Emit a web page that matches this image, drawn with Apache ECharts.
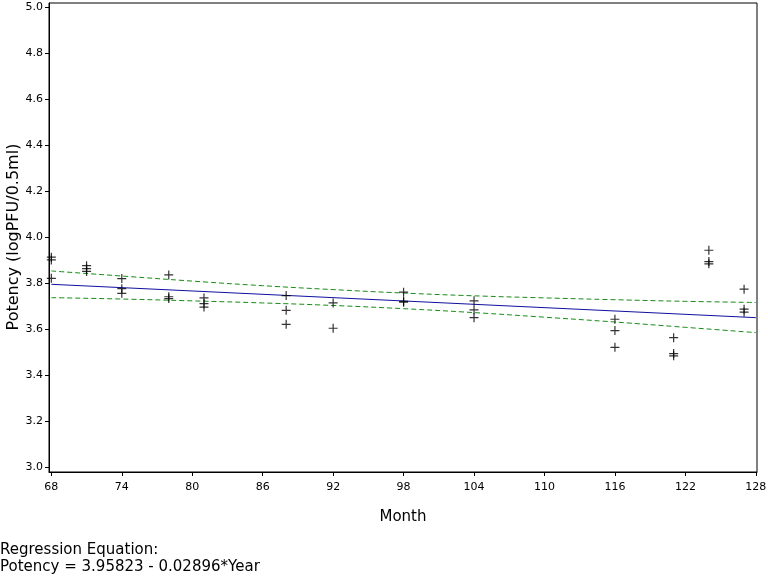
<!DOCTYPE html>
<html>
<head>
<meta charset="utf-8">
<script src="https://cdn.jsdelivr.net/npm/echarts@6/dist/echarts.min.js"></script>
<style>html,body{margin:0;padding:0;background:#fff}#c{width:768px;height:576px}</style>
</head>
<body>
<div id="c"></div>
<script>
// Observed data: [month, potency]
var obsMonths = [68,68,68,71,71,71,74,74,74,78,78,78,81,81,81,88,88,88,92,92,98,98,98,104,104,104,116,116,116,121,121,121,124,124,124,127,127,127];
var obsValues = [3.912,3.900,3.820,3.875,3.862,3.850,3.819,3.775,3.755,3.835,3.740,3.732,3.735,3.710,3.695,3.745,3.681,3.620,3.713,3.603,3.760,3.720,3.716,3.722,3.683,3.649,3.642,3.593,3.520,3.562,3.493,3.483,3.942,3.893,3.883,3.773,3.686,3.673];
// Regression line endpoints
var fitMonths = [68,128];
var fitValues = [3.794,3.649];
// Confidence band
var bandMonths = [68,74,80,86,92,98,104,110,116,122,128];
var upperValues = [3.852,3.830,3.808,3.788,3.771,3.756,3.744,3.735,3.727,3.720,3.715];
var lowerValues = [3.736,3.730,3.722,3.713,3.702,3.688,3.671,3.651,3.630,3.607,3.584];
// Tick labels
var xTicks = [68,74,80,86,92,98,104,110,116,122,128];
var yTicks = [3.0,3.2,3.4,3.6,3.8,4.0,4.2,4.4,4.6,4.8,5.0];

function zip(a,b){return a.map(function(v,i){return [v,b[i]];});}

var chart = echarts.init(document.getElementById('c'), null, {renderer:'canvas'});
var font = 'DejaVu Sans';
chart.setOption({
  animation:false,
  backgroundColor:'#fff',
  grid:{left:49, top:3, right:11, bottom:104, containLabel:false, outerBoundsMode:'none',
        show:true, borderColor:'#000', borderWidth:1, backgroundColor:'transparent'},
  xAxis:{
    type:'value', min:67.8, max:128.1,
    name:'Month', nameLocation:'middle', nameGap:38,
    nameTextStyle:{fontFamily:font, fontSize:15, color:'#000'},
    axisLine:{show:true, lineStyle:{color:'#000', width:1}},
    axisTick:{show:true, length:4, inside:false, lineStyle:{color:'#000'}, customValues:xTicks},
    axisLabel:{customValues:xTicks, fontFamily:font, fontSize:11, color:'#000', margin:10, hideOverlap:false, formatter:function(v){return String(Math.round(v));}},
    splitLine:{show:false}
  },
  yAxis:{
    type:'value', min:2.978, max:5.017,
    axisLine:{show:true, lineStyle:{color:'#000', width:1}},
    axisTick:{show:true, length:4, lineStyle:{color:'#000'}, customValues:yTicks},
    axisLabel:{customValues:yTicks, fontFamily:font, fontSize:11, color:'#000', margin:6, formatter:function(v){return v.toFixed(1);}},
    splitLine:{show:false}
  },
  graphic:[
    {type:'text', x:14, y:237, rotation:Math.PI/2,
     style:{text:'Potency (logPFU/0.5ml)', font:'16px "DejaVu Sans"', fill:'#000', align:'center', verticalAlign:'middle'}},
    {type:'text', left:0, top:543, style:{text:'Regression Equation:', font:'15px "DejaVu Sans"', fill:'#000'}},
    {type:'text', left:0, top:560, style:{text:'Potency = 3.95823 - 0.02896*Year', font:'15px "DejaVu Sans"', fill:'#000'}}
  ],
  series:[
    {type:'line', data:zip(bandMonths,upperValues), symbol:'none', smooth:true, lineStyle:{color:'#1a8a1a', width:1, type:[5,3]}, z:2},
    {type:'line', data:zip(bandMonths,lowerValues), symbol:'none', smooth:true, lineStyle:{color:'#1a8a1a', width:1, type:[5,3]}, z:2},
    {type:'line', data:zip(fitMonths,fitValues), symbol:'none', lineStyle:{color:'#1010a0', width:1}, z:3},
    {type:'scatter', data:zip(obsMonths,obsValues), symbol:'path://M5,0L5,10M0,5L10,5', symbolSize:9,
     itemStyle:{color:'transparent', borderColor:'#000', borderWidth:1.2}, z:4}
  ]
});
</script>
</body>
</html>
